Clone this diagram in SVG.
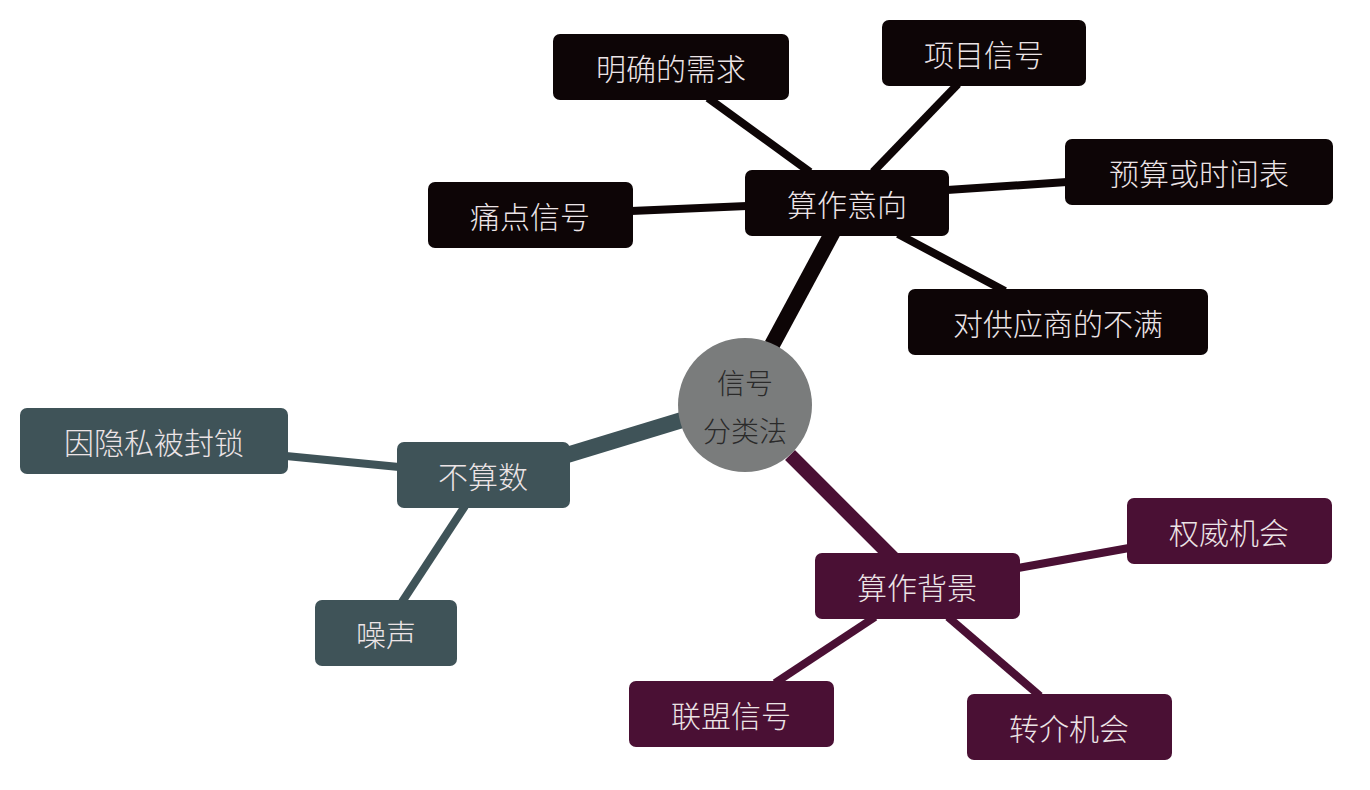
<svg xmlns="http://www.w3.org/2000/svg" width="1370" height="790" viewBox="0 0 1370 790">
<style>
text{font-family:"Noto Sans CJK SC","Liberation Sans",sans-serif;font-weight:300;font-size:30px;text-anchor:middle;dominant-baseline:central;fill:#ece4e6}
.k rect{fill:#0d0506}.g rect{fill:#3f5358}.p rect{fill:#4a1034}
.lk{stroke:#0d0506}.lg{stroke:#3f5358}.lp{stroke:#4a1034}
</style>
<rect width="1370" height="790" fill="#fff"/>
<g id="connectors" fill="none">
<line class="lk" x1="772" y1="345" x2="835" y2="228" stroke-width="16"/>
<line class="lg" x1="682" y1="420" x2="567" y2="455" stroke-width="16"/>
<line class="lp" x1="790" y1="455" x2="897" y2="562" stroke-width="14"/>
<line class="lk" x1="810" y1="172" x2="708" y2="98" stroke-width="8"/>
<line class="lk" x1="873" y1="172" x2="958" y2="84" stroke-width="8"/>
<line class="lk" x1="947" y1="190" x2="1067" y2="182" stroke-width="8"/>
<line class="lk" x1="898" y1="234" x2="1005" y2="291" stroke-width="8"/>
<line class="lk" x1="631" y1="211" x2="747" y2="206" stroke-width="8"/>
<line class="lg" x1="286" y1="456" x2="399" y2="467" stroke-width="8"/>
<line class="lg" x1="465" y1="506" x2="402" y2="602" stroke-width="8"/>
<line class="lp" x1="1018" y1="568" x2="1129" y2="548" stroke-width="8"/>
<line class="lp" x1="875" y1="617" x2="775" y2="683" stroke-width="8"/>
<line class="lp" x1="948" y1="617" x2="1040" y2="696" stroke-width="8"/>
</g>
<g id="center"><circle cx="745" cy="405" r="67" fill="#7a7c7c"/><text x="745" y="382" style="fill:#2a2a2a;font-size:28px">信号</text><text x="745" y="430" style="fill:#2a2a2a;font-size:28px">分类法</text></g>
<g id="n1" class="k"><rect x="745" y="170" width="204" height="66" rx="7"/><text x="847" y="203">算作意向</text></g>
<g id="n2" class="k"><rect x="553" y="34" width="236" height="66" rx="7"/><text x="671" y="67">明确的需求</text></g>
<g id="n3" class="k"><rect x="882" y="20" width="204" height="66" rx="7"/><text x="984" y="53">项目信号</text></g>
<g id="n4" class="k"><rect x="1065" y="139" width="268" height="66" rx="7"/><text x="1199" y="172">预算或时间表</text></g>
<g id="n5" class="k"><rect x="908" y="289" width="300" height="66" rx="7"/><text x="1058" y="322">对供应商的不满</text></g>
<g id="n6" class="k"><rect x="428" y="182" width="205" height="66" rx="7"/><text x="530" y="215">痛点信号</text></g>
<g id="n7" class="g"><rect x="397" y="442" width="173" height="66" rx="7"/><text x="483" y="475">不算数</text></g>
<g id="n8" class="g"><rect x="20" y="408" width="268" height="66" rx="7"/><text x="154" y="441">因隐私被封锁</text></g>
<g id="n9" class="g"><rect x="315" y="600" width="142" height="66" rx="7"/><text x="386" y="633">噪声</text></g>
<g id="n10" class="p"><rect x="815" y="553" width="205" height="66" rx="7"/><text x="917" y="586">算作背景</text></g>
<g id="n11" class="p"><rect x="1127" y="498" width="205" height="66" rx="7"/><text x="1229" y="531">权威机会</text></g>
<g id="n12" class="p"><rect x="629" y="681" width="205" height="66" rx="7"/><text x="731" y="714">联盟信号</text></g>
<g id="n13" class="p"><rect x="967" y="694" width="205" height="66" rx="7"/><text x="1069" y="727">转介机会</text></g>
</svg>
